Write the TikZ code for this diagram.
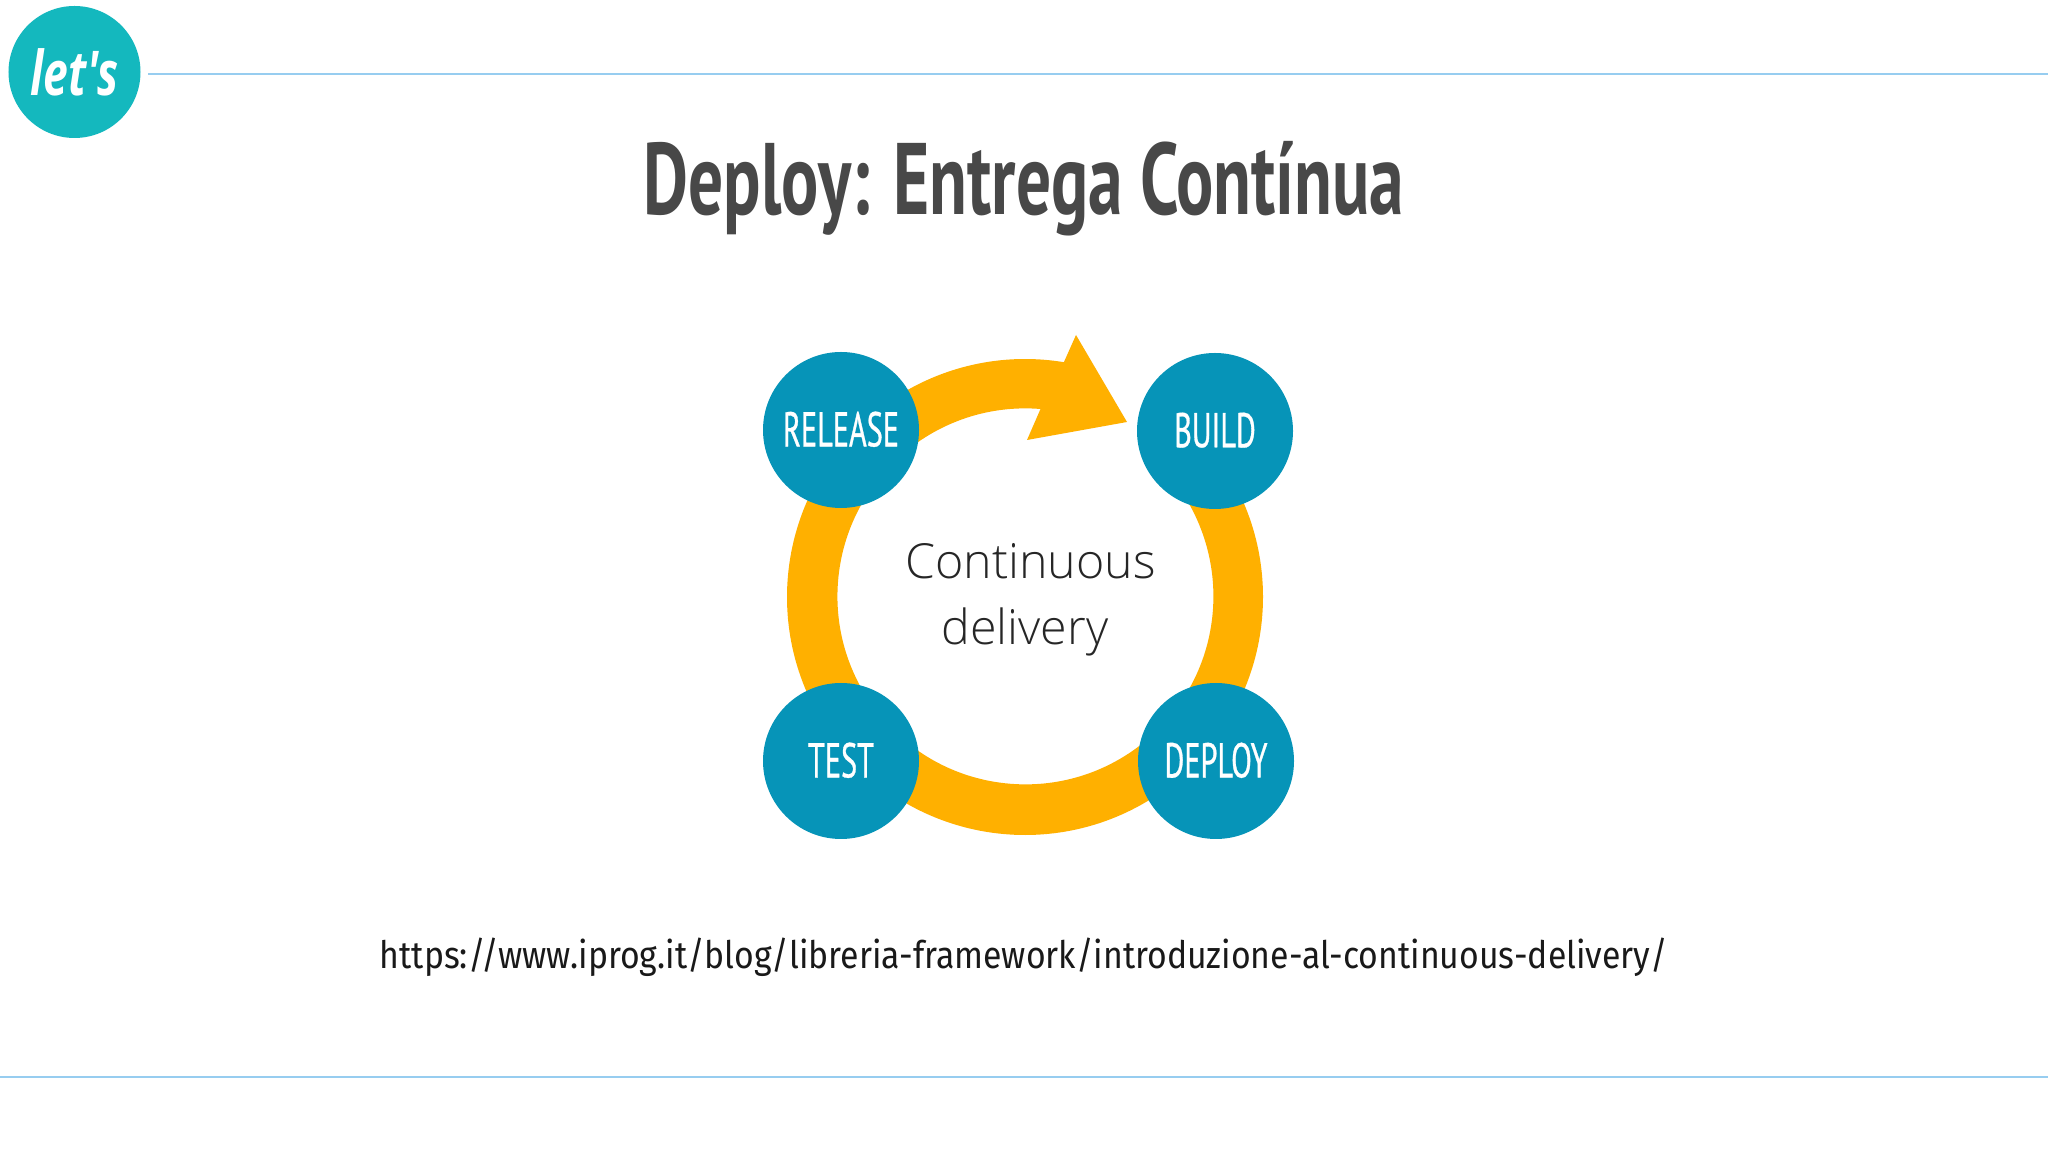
\documentclass[tikz,border=0pt]{standalone}
\usepackage{fontspec}
\setmainfont{Open Sans}
\newfontfamily\titlefont[FakeStretch=0.683]{PT Sans Bold}
\newfontfamily\stepfont[FakeStretch=0.62,FakeBold=0.6]{PT Sans}
\newfontfamily\urlfont[FakeStretch=0.892]{Fira Sans}
\newfontfamily\lightfont{Open Sans Light}
\newfontfamily\logofont[FakeStretch=0.72]{Open Sans Bold Italic}
\definecolor{ringc}{HTML}{FFB000}
\definecolor{stepc}{HTML}{0694B8}
\definecolor{rulec}{HTML}{97CDF0}
\definecolor{logoc}{HTML}{14B8BE}
\definecolor{titlec}{HTML}{484848}
\newcommand{\steplabel}[1]{\raisebox{2bp}{#1}}
\tikzset{
  stepnode/.style={circle,fill=stepc,minimum size=156bp,inner sep=0pt,text=white,font=\stepfont\fontsize{49}{56}\selectfont},
  rulestyle/.style={draw=rulec,line width=1.8bp},
  centretext/.style={font=\lightfont\fontsize{48.5}{60}\selectfont,text=black!85,inner sep=0pt}
}
\begin{document}
\begin{tikzpicture}[x=1bp,y=1bp]
\useasboundingbox (0,0) rectangle (2048,1152);
\fill[white] (0,0) rectangle (2048,1152);
% rules
\coordinate (r1a) at (148,1078); \coordinate (r1b) at (2048,1078);
\coordinate (r2a) at (0,75); \coordinate (r2b) at (2048,75);
\draw[rulestyle] (r1a) -- (r1b);
\draw[rulestyle] (r2a) -- (r2b);
% logo
\node[circle,fill=logoc,minimum size=132bp,inner sep=0pt,text=white,font=\logofont\fontsize{62}{70}\selectfont] (logo) at (74.5,1080) {let's};
% title
\node[text=titlec,font=\titlefont\fontsize{102}{110}\selectfont,inner sep=0pt] (title) at (1024,963) {Deploy: Entrega Contínua};
% ring with arrow head
\fill[ringc] (1025,555) ++(41:238) arc[start angle=41,end angle=-279.4,radius=238]
  -- (1076,817) -- (1127,730) -- (1027,712) -- (1040.5,743)
  arc[start angle=-274.6,end angle=41,radius=188] -- cycle;
% steps
\node[stepnode] (release) at (841,722) {\steplabel{RELEASE}};
\node[stepnode] (build) at (1215,721) {\steplabel{BUILD}};
\node[stepnode] (test) at (841,391) {\steplabel{TEST}};
\node[stepnode] (deploy) at (1216,391) {\steplabel{DEPLOY}};
% centre
\node[centretext] (centre1) at (1030.5,591) {Continuous};
\node[centretext] (centre2) at (1025,520) {delivery};
% url
\node[font=\urlfont\fontsize{38}{44}\selectfont,text=black!90,inner sep=0pt] (url) at (1024,195) {https://www.iprog.it/blog/libreria-framework/introduzione-al-continuous-delivery/};
\end{tikzpicture}
\end{document}
